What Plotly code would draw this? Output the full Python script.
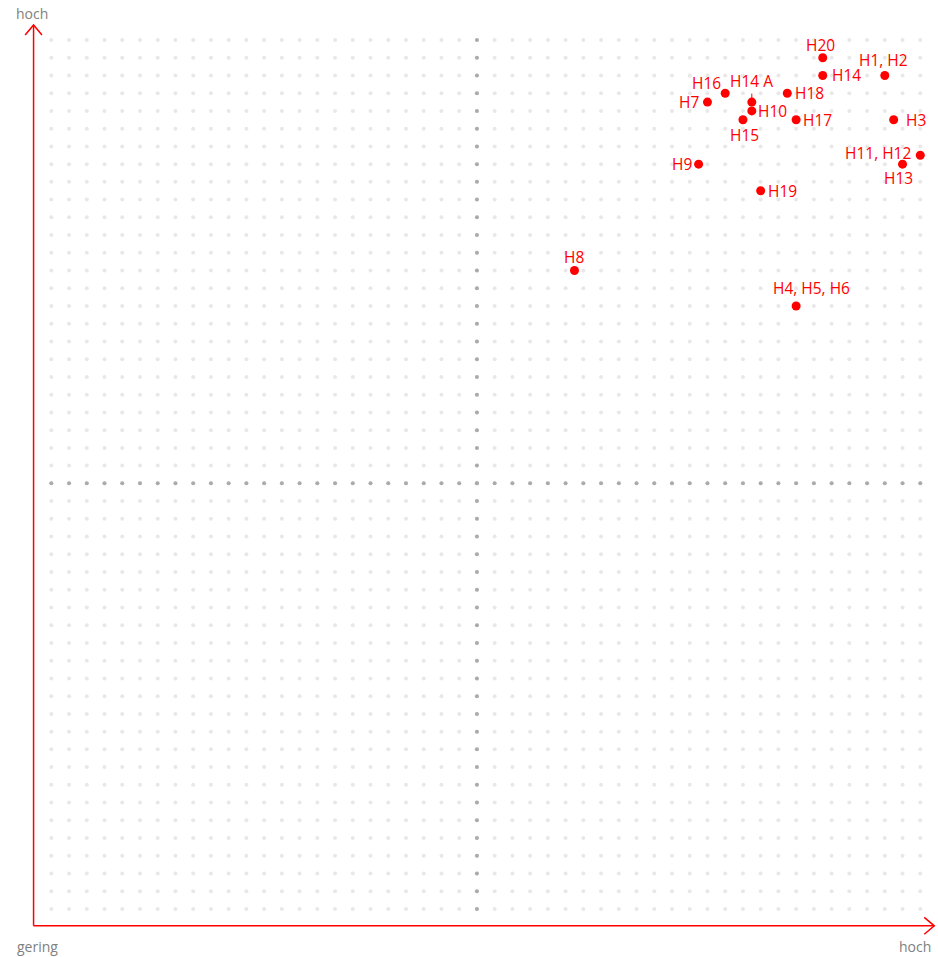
import numpy as np
import plotly.graph_objects as go

# Bewertung der Handlungsfelder (Achsen 0..10)
names = ["H1, H2", "H3", "H4, H5, H6", "H7", "H8", "H9", "H10", "H11, H12", "H13",
         "H14", "H14 A", "H15", "H16", "H17", "H18", "H19", "H20"]
x_vals = [9.6, 9.7, 8.6, 7.6, 6.1, 7.5, 8.1, 10.0, 9.8,
          8.9, 8.1, 8.0, 7.8, 8.6, 8.5, 8.2, 8.9]
y_vals = [9.6, 9.1, 7.0, 9.3, 7.4, 8.6, 9.2, 8.7, 8.6,
          9.6, 9.3, 9.1, 9.4, 9.1, 9.4, 8.3, 9.8]

axis_x_labels = ["gering", "hoch"]
axis_y_label = "hoch"

RED = "#ff0000"
GREY_TXT = "#808080"
FONT = "Open Sans"
PX = 88.67    # pixel je Einheit

# Label-Platzierung: (xanchor, xshift, yshift) in Pixel
label_pos = {
    "H1, H2": ("center", -1, 15),
    "H3": ("left", 10, 0),
    "H4, H5, H6": ("center", 15, 18),
    "H7": ("right", -6, 0),
    "H8": ("center", 0, 14),
    "H9": ("right", -5, 0),
    "H10": ("left", 4, 0),
    "H11, H12": ("right", -7, 2),
    "H13": ("center", -4, -14),
    "H14": ("left", 7, 0),
    "H15": ("center", 2, -15),
    "H16": ("right", -2, 10),
    "H17": ("left", 5, 0),
    "H18": ("left", 6, 0),
    "H19": ("left", 5, 0),
    "H20": ("center", -2, 13),
}

fig = go.Figure()

# Punktraster
g = np.arange(1, 51) * 0.2
gx, gy = np.meshgrid(g, g)
fig.add_trace(go.Scatter(x=gx.ravel(), y=gy.ravel(), mode="markers",
                         marker=dict(color="#e8e8e8", size=4), hoverinfo="skip", showlegend=False))
mid = np.full_like(g, 5.0)
fig.add_trace(go.Scatter(x=np.concatenate([mid, g]), y=np.concatenate([g, mid]), mode="markers",
                         marker=dict(color="#ababab", size=4), hoverinfo="skip", showlegend=False))

# Achsen mit Pfeilen
tip_y, tip_x = 10.17, 10.158
w, back = 0.095, 0.113
shapes = [
    dict(type="line", x0=0, y0=0.01, x1=0, y1=tip_y),
    dict(type="line", x0=0, y0=0.01, x1=tip_x, y1=0.01),
    dict(type="path", path=f"M {-w},{tip_y - back} L 0,{tip_y} L {w},{tip_y - back}"),
    dict(type="path", path=f"M {tip_x - back},{0.01 - w} L {tip_x},0.01 L {tip_x - back},{0.01 + w}"),
]
for s in shapes:
    s.update(xref="x", yref="y", line=dict(color=RED, width=1.5), layer="above")
fig.update_layout(shapes=shapes)

# Datenpunkte
fig.add_trace(go.Scatter(x=x_vals, y=y_vals, mode="markers", marker=dict(color=RED, size=9),
                         text=names, hoverinfo="text", showlegend=False))

lab_font = dict(family=FONT, size=15.5, color=RED)
ann = []
for n, xv, yv in zip(names, x_vals, y_vals):
    if n == "H14 A":
        ann.append(dict(x=xv, y=yv, text=n, showarrow=True, arrowhead=0, arrowwidth=1,
                        arrowcolor=RED, ax=0, ay=-21, standoff=4, font=lab_font))
        continue
    xa, xs, ys = label_pos[n]
    ann.append(dict(x=xv, y=yv, text=n, showarrow=False, xanchor=xa, yanchor="middle",
                    xshift=xs, yshift=ys, font=lab_font))

# Achsenbeschriftungen
ax_font = dict(family=FONT, size=14, color=GREY_TXT)
ann.append(dict(x=-0.017, y=10.30, text=axis_y_label, showarrow=False, xanchor="center", yanchor="middle",
                font=ax_font))
ann.append(dict(x=-0.21, y=-0.225, text=axis_x_labels[0], showarrow=False, xanchor="left",
                yanchor="middle", font=ax_font))
ann.append(dict(x=10.14, y=-0.225, text=axis_x_labels[1], showarrow=False, xanchor="right",
                yanchor="middle", font=ax_font))

W, H = 938, 957
x0 = -33.57 / PX
y1 = 926.7 / PX
fig.update_layout(
    annotations=ann,
    width=W, height=H,
    margin=dict(l=0, r=0, t=0, b=0),
    paper_bgcolor="white", plot_bgcolor="white",
    xaxis=dict(range=[x0, x0 + W / PX], visible=False, fixedrange=True),
    yaxis=dict(range=[y1 - H / PX, y1], visible=False, fixedrange=True),
    font=dict(family=FONT),
)

# Browser-Seitenrand entfernen, damit das Bild genau das Fenster füllt
fig.write_html("out.html", config={"displayModeBar": False},
               post_script="document.body.style.margin='0';document.body.style.overflow='hidden';")
